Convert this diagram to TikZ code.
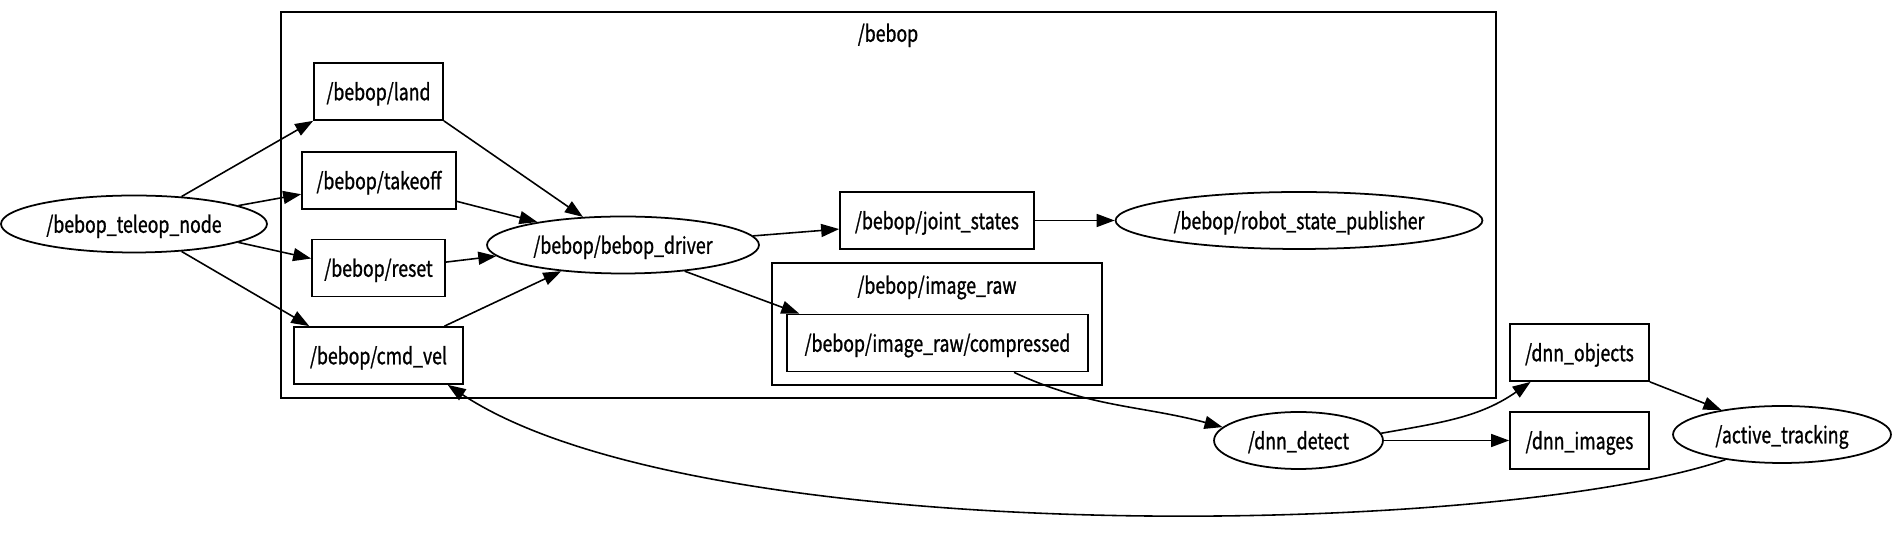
\documentclass[tikz,border=0pt]{standalone}
\usepackage{fontspec}
\setmainfont{Noto Sans CJK SC}[FakeStretch=0.775, FakeBold=1]
\usetikzlibrary{shapes.geometric, arrows.meta}
\begin{document}
\begin{tikzpicture}[
    x=0.02cm, y=0.02cm,
    font=\fontsize{13}{15}\selectfont,
    every node/.style={text height=12pt, text depth=2pt},
    topic/.style={rectangle, draw, line width=1pt, minimum height=1.14cm, inner sep=0pt},
    rosnode/.style={ellipse, draw, line width=1pt, minimum height=1.14cm, inner sep=0pt},
    cluster/.style={rectangle, draw, line width=0.9pt, inner sep=0pt},
    arrow/.style={-{Triangle[length=0.36cm, width=0.26cm]}, line width=0.9pt}
]
\useasboundingbox (0,0) rectangle (1894,537);

% Namespace boxes
\node[cluster, minimum width=24.3cm, minimum height=7.72cm] (bebopns) at (888.5,332) {};
\node (bebopnslabel) at (888,504) {/bebop};
\node[cluster, minimum width=6.6cm, minimum height=2.44cm] (rawns) at (937,213) {};
\node (rawnslabel) at (937,252) {/bebop/image\_raw};

% ROS nodes
\node[rosnode, minimum width=5.32cm] (teleop) at (134,313) {/bebop\_teleop\_node};
\node[rosnode, minimum width=5.44cm] (driver) at (623,292) {/bebop/bebop\_driver};
\node[rosnode, minimum width=7.34cm] (rsp) at (1299,316.5) {/bebop/robot\_state\_publisher};
\node[rosnode, minimum width=3.38cm] (detect) at (1298.5,96.5) {/dnn\_detect};
\node[rosnode, minimum width=4.36cm] (tracking) at (1782,102.5) {/active\_tracking};

% Topics
\node[topic, minimum width=2.58cm] (land) at (378.5,445.5) {/bebop/land};
\node[topic, minimum width=3.08cm] (takeoff) at (379,356.5) {/bebop/takeoff};
\node[topic, minimum width=2.66cm] (reset) at (378.5,269) {/bebop/reset};
\node[topic, minimum width=3.38cm] (cmdvel) at (378.5,181.5) {/bebop/cmd\_vel};
\node[topic, minimum width=3.88cm] (joint) at (937,316.5) {/bebop/joint\_states};
\node[topic, minimum width=6.02cm] (compressed) at (937.5,194) {/bebop/image\_raw/compressed};
\node[topic, minimum width=2.78cm] (objects) at (1579.5,184.5) {/dnn\_objects};
\node[topic, minimum width=2.78cm] (images) at (1579.5,96.5) {/dnn\_images};

% Arrows
\draw[arrow] (teleop.30) -- (land.south west);
\draw[arrow] (teleop.10) -- (takeoff.190);
\draw[arrow] (teleop.-10) -- (reset.172);
\draw[arrow] (teleop.-30) -- (cmdvel.157);
\draw[arrow] (land.south east) -- (driver.145);
\draw[arrow] (takeoff.-15) -- (driver.165);
\draw[arrow] (reset.5) -- (driver.185);
\draw[arrow] (cmdvel.24) -- (driver.203);
\draw[arrow] (driver.4) -- (joint.185);
\draw[arrow] (joint) -- (rsp);
\draw[arrow] (driver.-23) -- (compressed.168);
\draw[arrow] (compressed.-21) to[out=-25, in=165] (detect.170);
\draw[arrow] (detect.5) to[out=10, in=215] (objects.211);
\draw[arrow] (detect) -- (images);
\draw[arrow] (objects.south east) -- (tracking.158);
\draw[arrow] (tracking.204) .. controls (1500,0) and (700,-15) .. (cmdvel.-23);
\end{tikzpicture}
\end{document}
